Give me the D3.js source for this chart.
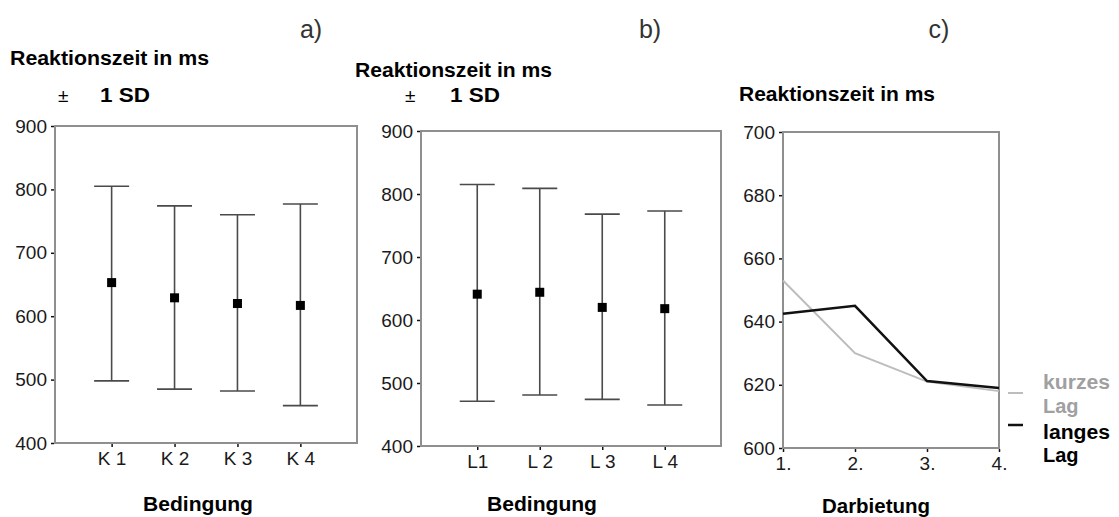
<!DOCTYPE html>
<html>
<head>
<meta charset="utf-8">
<script src="https://cdn.jsdelivr.net/npm/d3@7"></script>
<style>
  html, body { margin: 0; padding: 0; background: #fff; }
  svg { display: block; }
  text { font-family: "Liberation Sans", Arial, sans-serif; }
</style>
</head>
<body>
<svg id="chart" width="1119" height="517"></svg>
<script>
// ---- data ----
const catsA = ["K 1", "K 2", "K 3", "K 4"];
const meanA = [653, 629, 620, 617];
const upperA = [805, 774, 760, 777];
const lowerA = [498, 485, 482, 459];

const catsB = ["L1", "L 2", "L 3", "L 4"];
const meanB = [641, 644, 620, 618];
const upperB = [815, 809, 768, 773];
const lowerB = [471, 481, 474, 465];

const catsC = ["1.", "2.", "3.", "4."];
const kurzesLag = [653, 630, 621, 618];
const langesLag = [642.5, 645, 621.2, 619];

const yTicksAB = [400, 500, 600, 700, 800, 900];
const yTicksC = [600, 620, 640, 660, 680, 700];

const seriesNames = [["kurzes", "Lag"], ["langes", "Lag"]];

// ---- drawing ----
const svg = d3.select("#chart");
const frameColor = "#8f8f8f";
const barColor = "#4a4a4a";

function frame(g, x0, x1, y0, y1) {
  g.append("rect").attr("x", x0).attr("y", y1).attr("width", x1 - x0).attr("height", y0 - y1)
    .attr("fill", "none").attr("stroke", frameColor).attr("stroke-width", 2);
}

function styleAxis(ax) {
  ax.select(".domain").remove();
  ax.selectAll(".tick line").attr("stroke", "#111").attr("stroke-width", 1.5);
  ax.selectAll(".tick text").attr("fill", "#1a1a1a").style("font-size", "19px")
    .style("font-family", "'Liberation Sans', Arial, sans-serif");
}

function boldText(x, y, str, len, anchor, color) {
  const t = svg.append("text").attr("x", x).attr("y", y).text(str)
    .style("font-weight", "bold").style("font-size", "20px")
    .attr("fill", color || "#000");
  if (len) t.attr("textLength", len).attr("lengthAdjust", "spacingAndGlyphs");
  if (anchor) t.attr("text-anchor", anchor);
  return t;
}

function errorPanel(cfg) {
  const g = svg.append("g");
  const x = d3.scalePoint().domain(cfg.cats).range([cfg.x0, cfg.x1]).padding(0.9);
  const y = d3.scaleLinear().domain([400, 900]).range([cfg.y0, cfg.y1]);
  frame(g, cfg.x0, cfg.x1, cfg.y0, cfg.y1);

  const ya = g.append("g").attr("transform", `translate(${cfg.x0 - 1},0)`)
    .call(d3.axisLeft(y).tickValues(yTicksAB).tickSize(3).tickPadding(4).tickFormat(d3.format("d")));
  styleAxis(ya);
  const xa = g.append("g").attr("transform", `translate(0,${cfg.y0 + 1})`)
    .call(d3.axisBottom(x).tickSize(3).tickPadding(5));
  styleAxis(xa);

  const capW = 35;
  cfg.cats.forEach((c, i) => {
    const cx = x(c);
    g.append("line").attr("x1", cx).attr("x2", cx).attr("y1", y(cfg.upper[i])).attr("y2", y(cfg.lower[i]))
      .attr("stroke", barColor).attr("stroke-width", 1.6);
    [cfg.upper[i], cfg.lower[i]].forEach(v => {
      g.append("line").attr("x1", cx - capW / 2).attr("x2", cx + capW / 2).attr("y1", y(v)).attr("y2", y(v))
        .attr("stroke", barColor).attr("stroke-width", 1.6);
    });
    g.append("rect").attr("x", cx - 4.5).attr("y", y(cfg.mean[i]) - 4.5).attr("width", 9).attr("height", 9)
      .attr("fill", "#000");
  });
}

errorPanel({ cats: catsA, mean: meanA, upper: upperA, lower: lowerA, x0: 55, x1: 357, y0: 443, y1: 126 });
errorPanel({ cats: catsB, mean: meanB, upper: upperB, lower: lowerB, x0: 421, x1: 721, y0: 446, y1: 131 });

// panel c
(function () {
  const g = svg.append("g");
  const x0 = 783, x1 = 999, y0 = 448, y1 = 132;
  const x = d3.scalePoint().domain(catsC).range([x0, x1]).padding(0);
  const y = d3.scaleLinear().domain([600, 700]).range([y0, y1]);
  frame(g, x0, x1, y0, y1);
  const ya = g.append("g").attr("transform", `translate(${x0 - 1},0)`)
    .call(d3.axisLeft(y).tickValues(yTicksC).tickSize(3).tickPadding(4).tickFormat(d3.format("d")));
  styleAxis(ya);
  const xa = g.append("g").attr("transform", `translate(0,${y0 + 1})`)
    .call(d3.axisBottom(x).tickSize(3).tickPadding(5));
  styleAxis(xa);

  const line = d3.line().x((d, i) => x(catsC[i])).y(d => y(d));
  g.append("path").datum(kurzesLag).attr("d", line).attr("fill", "none")
    .attr("stroke", "#bdbdbd").attr("stroke-width", 2);
  g.append("path").datum(langesLag).attr("d", line).attr("fill", "none")
    .attr("stroke", "#111").attr("stroke-width", 2.5);

  // legend
  const lg = svg.append("g");
  lg.append("line").attr("x1", 1008).attr("x2", 1023).attr("y1", 393).attr("y2", 393)
    .attr("stroke", "#bdbdbd").attr("stroke-width", 2);
  lg.append("line").attr("x1", 1008).attr("x2", 1023).attr("y1", 425).attr("y2", 425)
    .attr("stroke", "#111").attr("stroke-width", 2.5);
  boldText(1043, 389, seriesNames[0][0], 67, null, "#a0a0a0");
  boldText(1043, 413, seriesNames[0][1], null, null, "#a0a0a0");
  boldText(1043, 439, seriesNames[1][0], 67, null, "#000");
  boldText(1043, 462, seriesNames[1][1], null, null, "#000");
})();

// titles
[["a)", 311], ["b)", 650], ["c)", 939]].forEach(([t, cx]) => {
  svg.append("text").attr("x", cx).attr("y", 38).attr("text-anchor", "middle").text(t)
    .style("font-size", "25px").attr("fill", "#333");
});

// y labels
boldText(10, 65, "Reaktionszeit in ms", 199);
boldText(355, 77, "Reaktionszeit in ms", 197);
boldText(739, 101, "Reaktionszeit in ms", 196);
[[58, 100], [405, 450]].forEach(([px, sx]) => {
  svg.append("text").attr("x", px).attr("y", 102).text("±").style("font-size", "19px").attr("fill", "#000");
  boldText(sx, 102, "1 SD", 50);
});

// x labels
boldText(143, 511, "Bedingung", 110);
boldText(487, 511, "Bedingung", 110);
boldText(822, 513, "Darbietung", 108);
</script>
</body>
</html>
